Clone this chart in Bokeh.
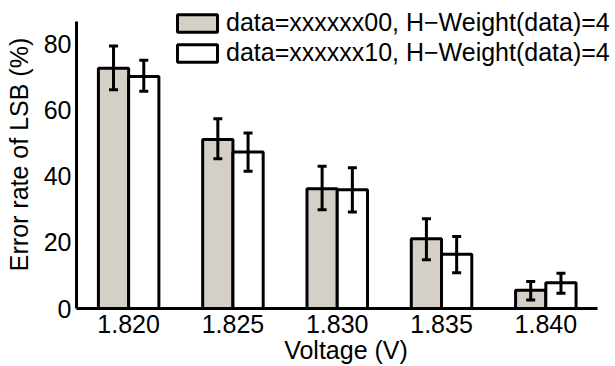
from bokeh.plotting import figure
from bokeh.models import (ColumnDataSource, Range1d, Whisker, TeeHead,
                          Legend, LegendItem, FixedTicker)
from bokeh.transform import dodge
from bokeh.embed import file_html
from bokeh.resources import INLINE

# ---- data ----
voltages = ["1.820", "1.825", "1.830", "1.835", "1.840"]
series_names = ["data=xxxxxx00, H\u2212Weight(data)=4",
                "data=xxxxxx10, H\u2212Weight(data)=4"]
rate_00 = [72.8, 51.2, 36.3, 21.1, 5.5]
upper_00 = [79.5, 57.5, 43.1, 27.2, 8.2]
lower_00 = [66.3, 45.4, 29.9, 14.8, 2.6]
rate_10 = [70.3, 47.4, 36.0, 16.4, 7.8]
upper_10 = [75.2, 53.2, 42.6, 21.8, 10.7]
lower_10 = [65.8, 41.6, 29.2, 10.8, 4.6]
y_ticks = [0, 20, 40, 60, 80]

FONT = "Liberation Sans"
GRAY = "#d4d0c8"

idx = list(range(len(voltages)))
src = ColumnDataSource(dict(i=idx, v=voltages, r0=rate_00, u0=upper_00, l0=lower_00,
                            r1=rate_10, u1=upper_10, l1=lower_10))

# frame spans x 76..615 and y 0..308 so the legend (drawn inside it) is not clipped;
# axis lines are limited with bounds to match the reference box
p = figure(width=615, height=366, output_backend="svg", toolbar_location=None,
           x_range=Range1d(-0.5, 4.668), y_range=Range1d(0, 93.3),
           min_border_left=76, min_border_right=0, min_border_top=0,
           min_border_bottom=58)
p.outline_line_color = None
p.grid.grid_line_color = None
p.background_fill_color = "white"

bw = 0.29
b0 = p.vbar(x=dodge("i", -bw / 2), top="r0", width=bw, source=src,
            fill_color=GRAY, line_color="black", line_width=3)
b1 = p.vbar(x=dodge("i", bw / 2), top="r1", width=bw, source=src,
            fill_color="white", line_color="black", line_width=3)

for off, u, l in ((-bw / 2, "u0", "l0"), (bw / 2, "u1", "l1")):
    w = Whisker(base=dodge("i", off), upper=u, lower=l, source=src,
                line_color="black", line_width=3, level="overlay",
                upper_head=TeeHead(size=9, line_width=3, line_color="black"),
                lower_head=TeeHead(size=9, line_width=3, line_color="black"))
    p.add_layout(w)

for ax in (p.xaxis[0], p.yaxis[0]):
    ax.axis_line_width = 3
    ax.axis_line_color = "black"
    ax.major_tick_in = 0
    ax.major_tick_out = 0
    ax.minor_tick_in = 0
    ax.minor_tick_out = 0
    ax.major_label_text_font = FONT
    ax.major_label_text_font_size = "25px"
    ax.major_label_text_color = "black"
    ax.axis_label_text_font = FONT
    ax.axis_label_text_font_size = "25px"
    ax.axis_label_text_font_style = "normal"
    ax.axis_label_text_color = "black"

p.yaxis.ticker = FixedTicker(ticks=y_ticks)
p.yaxis.bounds = (0, 87)
p.yaxis.major_label_standoff = 5
p.yaxis.axis_label = "Error rate of LSB (%)"
p.yaxis.axis_label_standoff = 8

p.xaxis.ticker = FixedTicker(ticks=idx)
p.xaxis.major_label_overrides = {i: v for i, v in zip(idx, voltages)}
p.xaxis.bounds = (-0.5, 4.5)
p.xaxis.major_label_standoff = 6
p.xaxis.axis_label = "Voltage (V)"
p.xaxis.axis_label_standoff = 0

legend_common = dict(glyph_width=50, glyph_height=22, label_height=22, spacing=0,
                     padding=0, margin=0, label_standoff=4, label_text_font=FONT,
                     label_text_font_size="25px", label_text_color="black",
                     background_fill_alpha=0, border_line_alpha=0)
leg0 = Legend(items=[LegendItem(label=series_names[0], renderers=[b0])],
              location=(96, 271), **legend_common)
leg1 = Legend(items=[LegendItem(label=series_names[1], renderers=[b1])],
              location=(96, 241), **legend_common)
p.add_layout(leg0, "center")
p.add_layout(leg1, "center")

open("out.html", "w").write(file_html(p, INLINE))
